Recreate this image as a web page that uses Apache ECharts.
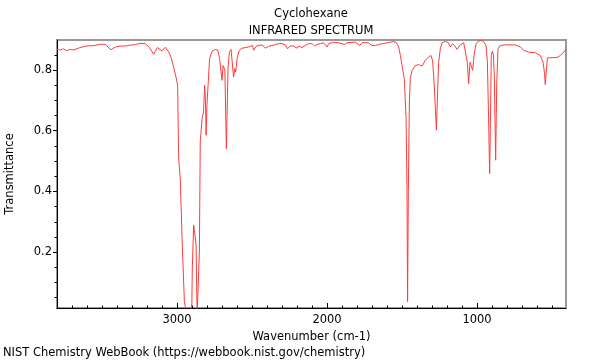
<!DOCTYPE html>
<html>
<head>
<meta charset="utf-8">
<script src="https://cdn.jsdelivr.net/npm/echarts@6/dist/echarts.min.js"></script>
<style>html,body{margin:0;padding:0;background:#fff}#c{width:600px;height:360px}</style>
</head>
<body>
<div id="c"></div>
<script>
const wavenumbers = [3800,3778,3758,3738,3711,3689,3658,3625,3591,3558,3511,3478,3440,3411,3378,3345,3311,3278,3245,3211,3185,3156,3131,3100,3078,3058,3038,3023,3008,2996,2989,2978,2967,2951,2938,2911,2901,2898,2889,2881,2873,2868,2865,2856,2851,2845,2833,2823,2816,2810,2806,2801,2793,2783,2767,2745,2727,2716,2700,2693,2688,2681,2671,2660,2651,2640,2629,2623,2616,2609,2600,2585,2567,2545,2523,2496,2489,2471,2433,2411,2391,2367,2345,2323,2311,2300,2278,2263,2245,2223,2200,2189,2167,2145,2123,2100,2083,2067,2045,2023,2000,1989,1967,1922,1883,1867,1811,1783,1767,1725,1700,1678,1633,1591,1556,1538,1522,1511,1500,1485,1473,1467,1463,1458,1451,1445,1433,1411,1389,1367,1358,1345,1323,1307,1296,1285,1278,1271,1265,1256,1245,1233,1211,1191,1178,1163,1148,1133,1111,1089,1078,1065,1056,1047,1038,1029,1020,1007,989,971,955,940,931,923,916,909,905,898,891,885,880,876,869,860,845,811,745,711,689,656,611,578,560,551,545,538,531,500,467,445,422,407];
const transmittance = [0.868,0.866,0.870,0.864,0.868,0.866,0.872,0.877,0.880,0.880,0.885,0.884,0.867,0.876,0.879,0.879,0.882,0.884,0.888,0.887,0.875,0.852,0.874,0.863,0.875,0.862,0.840,0.810,0.780,0.750,0.510,0.440,0.256,0.037,0.003,0.003,0.030,0.150,0.289,0.260,0.223,0.050,0.003,0.003,0.200,0.563,0.641,0.662,0.750,0.700,0.585,0.680,0.750,0.837,0.861,0.868,0.865,0.837,0.766,0.815,0.820,0.800,0.541,0.805,0.859,0.868,0.862,0.777,0.805,0.793,0.837,0.865,0.872,0.874,0.876,0.881,0.865,0.879,0.883,0.872,0.878,0.881,0.884,0.887,0.883,0.887,0.883,0.870,0.880,0.879,0.872,0.879,0.874,0.881,0.887,0.887,0.879,0.884,0.887,0.890,0.876,0.887,0.890,0.890,0.884,0.890,0.892,0.881,0.890,0.890,0.881,0.881,0.887,0.890,0.894,0.890,0.876,0.848,0.815,0.772,0.640,0.400,0.037,0.400,0.695,0.772,0.799,0.815,0.818,0.813,0.820,0.832,0.843,0.848,0.830,0.750,0.673,0.602,0.695,0.826,0.870,0.890,0.895,0.890,0.876,0.887,0.880,0.868,0.883,0.890,0.885,0.826,0.755,0.826,0.832,0.799,0.848,0.887,0.895,0.898,0.893,0.881,0.826,0.640,0.459,0.695,0.848,0.862,0.850,0.783,0.630,0.503,0.750,0.870,0.881,0.883,0.883,0.876,0.865,0.859,0.857,0.848,0.826,0.793,0.752,0.800,0.840,0.841,0.841,0.848,0.859,0.868];
const xMajorTicks = [1000,2000,3000];
const xMinorTicks = [500,600,700,800,900,1100,1200,1300,1400,1500,1600,1700,1800,1900,2100,2200,2300,2400,2500,2600,2700,2800,2900,3100,3200,3300,3400,3500,3600,3700];
const yMajorTicks = [0.2,0.4,0.6,0.8];
const yMinorTicks = [0.05,0.1,0.15,0.25,0.3,0.35,0.45,0.5,0.55,0.65,0.7,0.75,0.85];
const titleText = 'Cyclohexane';
const subtitleText = 'INFRARED SPECTRUM';
const xName = 'Wavenumber (cm-1)';
const yName = 'Transmittance';
const footerText = 'NIST Chemistry WebBook (https://webbook.nist.gov/chemistry)';

const X_MIN = 407, X_MAX = 3800, Y_MIN = 0.016, Y_MAX = 0.899;
const FONT = 'DejaVu Sans';
const FS = 11.5;
const chart = echarts.init(document.getElementById('c'), null, {renderer: 'canvas'});
const seriesData = wavenumbers.map((w, i) => [w, transmittance[i]]);
chart.setOption({
  animation: false,
  backgroundColor: '#fff',
  textStyle: {fontFamily: FONT},
  title: [
    {text: titleText, left: 311, top: 8, padding: 0, textAlign: 'center', textStyle: {fontFamily: FONT, fontSize: FS, fontWeight: 'normal', color: '#000'}},
    {text: subtitleText, left: 311, top: 25, padding: 0, textAlign: 'center', textStyle: {fontFamily: FONT, fontSize: FS, fontWeight: 'normal', color: '#000'}},
    {text: footerText, left: 3, top: 347, padding: 0, textStyle: {fontFamily: FONT, fontSize: FS, fontWeight: 'normal', color: '#000'}}
  ],
  grid: {left: 57, right: 34, top: 40, bottom: 52, show: true, borderColor: '#999', borderWidth: 2, backgroundColor: 'transparent', outerBoundsMode: 'none', containLabel: false},
  xAxis: [
    {type: 'value', min: X_MIN, max: X_MAX, inverse: true, position: 'bottom',
     name: xName, nameLocation: 'middle', nameGap: 18, nameTextStyle: {fontFamily: FONT, fontSize: FS, color: '#000'},
     axisLine: {show: true, lineStyle: {color: '#000', width: 1}},
     axisTick: {show: true, inside: true, length: 5, customValues: xMajorTicks, lineStyle: {color: '#000'}},
     axisLabel: {show: true, customValues: xMajorTicks, formatter: v => String(v), fontFamily: FONT, fontSize: FS, color: '#000', margin: 6},
     splitLine: {show: false}},
    {type: 'value', min: X_MIN, max: X_MAX, inverse: true, position: 'bottom',
     axisLine: {show: false},
     axisTick: {show: true, inside: true, length: 2.5, customValues: xMinorTicks, lineStyle: {color: '#000'}},
     axisLabel: {show: false}, splitLine: {show: false}}
  ],
  yAxis: [
    {type: 'value', min: Y_MIN, max: Y_MAX, position: 'left',
     name: yName, nameLocation: 'middle', nameGap: 41, nameRotate: 90, nameTextStyle: {fontFamily: FONT, fontSize: FS, color: '#000'},
     axisLine: {show: true, lineStyle: {color: '#000', width: 1}},
     axisTick: {show: true, inside: false, length: 4, customValues: yMajorTicks, lineStyle: {color: '#000'}},
     axisLabel: {show: true, customValues: yMajorTicks, formatter: v => String(v), fontFamily: FONT, fontSize: FS, color: '#000', margin: 5},
     splitLine: {show: false}},
    {type: 'value', min: Y_MIN, max: Y_MAX, position: 'left',
     axisLine: {show: false},
     axisTick: {show: true, inside: false, length: 2.5, customValues: yMinorTicks, lineStyle: {color: '#000'}},
     axisLabel: {show: false}, splitLine: {show: false}}
  ],
  series: [{
    type: 'line', data: seriesData, xAxisIndex: 0, yAxisIndex: 0,
    showSymbol: false, symbol: 'none', clip: true,
    lineStyle: {color: '#ff3b3b', width: 1}
  }]
});
</script>
</body>
</html>
